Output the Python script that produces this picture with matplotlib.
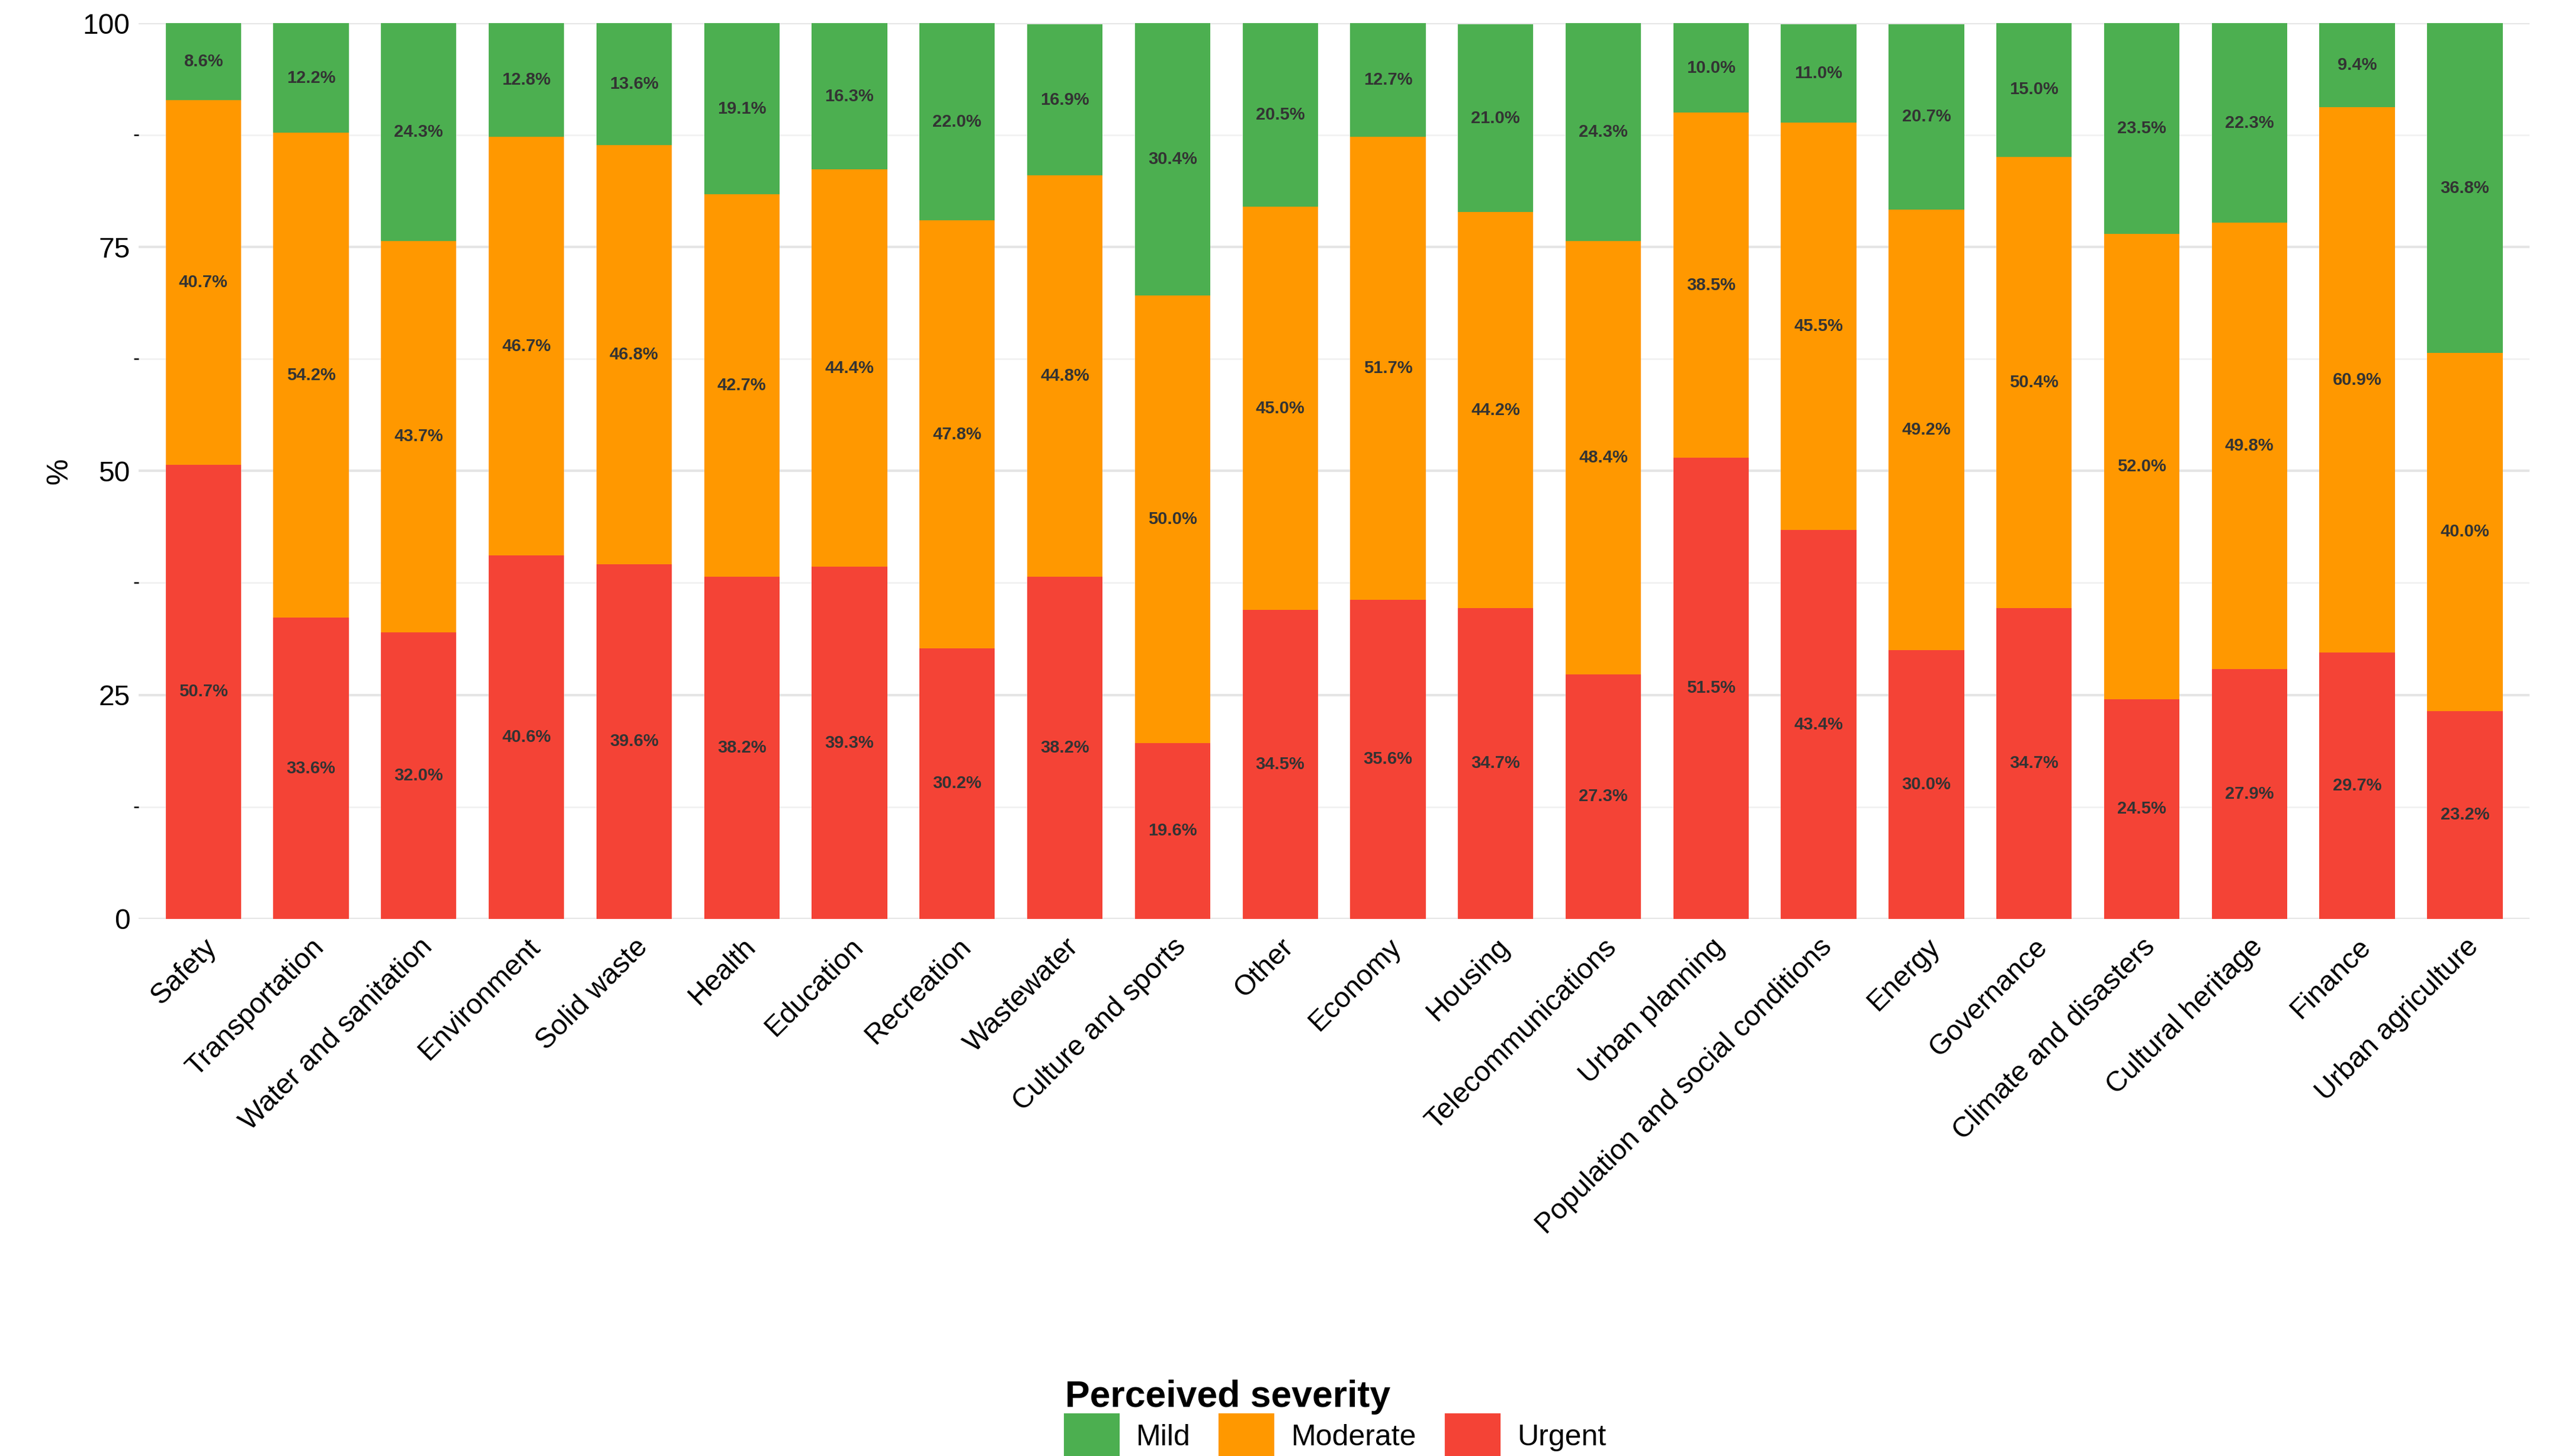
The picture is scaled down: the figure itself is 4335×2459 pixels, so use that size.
import matplotlib.pyplot as plt
from matplotlib.patches import Patch
import numpy as np

categories = ["Safety", "Transportation", "Water and sanitation", "Environment", "Solid waste",
              "Health", "Education", "Recreation", "Wastewater", "Culture and sports", "Other",
              "Economy", "Housing", "Telecommunications", "Urban planning",
              "Population and social conditions", "Energy", "Governance",
              "Climate and disasters", "Cultural heritage", "Finance", "Urban agriculture"]
urgent = [50.7, 33.6, 32.0, 40.6, 39.6, 38.2, 39.3, 30.2, 38.2, 19.6, 34.5,
          35.6, 34.7, 27.3, 51.5, 43.4, 30.0, 34.7, 24.5, 27.9, 29.7, 23.2]
moderate = [40.7, 54.2, 43.7, 46.7, 46.8, 42.7, 44.4, 47.8, 44.8, 50.0, 45.0,
            51.7, 44.2, 48.4, 38.5, 45.5, 49.2, 50.4, 52.0, 49.8, 60.9, 40.0]
mild = [8.6, 12.2, 24.3, 12.8, 13.6, 19.1, 16.3, 22.0, 16.9, 30.4, 20.5,
        12.7, 21.0, 24.3, 10.0, 11.0, 20.7, 15.0, 23.5, 22.3, 9.4, 36.8]

colors = {"Mild": "#4CAF50", "Moderate": "#FF9800", "Urgent": "#F44336"}

plt.rcParams['font.family'] = ['Liberation Sans', 'DejaVu Sans']
fig = plt.figure(figsize=(14.45, 8.197), dpi=300)
ax = fig.add_axes([0.054, 0.369, 0.931, 0.615])

x = np.arange(len(categories))
u = np.array(urgent); m = np.array(moderate); g = np.array(mild)
ax.bar(x, u, 0.7, color=colors["Urgent"], zorder=2)
ax.bar(x, m, 0.7, bottom=u, color=colors["Moderate"], zorder=2)
ax.bar(x, g, 0.7, bottom=u + m, color=colors["Mild"], zorder=2)

for i in x:
    for bot, val in ((0, u[i]), (u[i], m[i]), (u[i] + m[i], g[i])):
        ax.text(i, bot + val / 2, f"{val:.1f}%", ha='center', va='center',
                fontsize=7, fontweight='bold', color='#333333', zorder=3)

ax.set_xlim(-0.6, len(categories) - 0.4)
ax.set_ylim(0, 100)
ax.margins(0)
ax.set_yticks([0, 25, 50, 75, 100])
ax.set_yticks([12.5, 37.5, 62.5, 87.5], minor=True)
ax.grid(True, axis='y', which='major', color='#e5e5e5', linewidth=1.0, zorder=0)
ax.grid(True, axis='y', which='minor', color='#f0f0f0', linewidth=0.6, zorder=0)
ax.set_xticks(x)
ax.set_xticklabels(categories, rotation=45, ha='right', rotation_mode='anchor', fontsize=11.5)
ax.tick_params(axis='both', length=0, labelsize=11.5, colors='black')
ax.tick_params(axis='x', pad=6)
ax.set_ylabel('%', fontsize=12)
for s in ax.spines.values():
    s.set_visible(False)

handles = [Patch(color=colors[k]) for k in ("Mild", "Moderate", "Urgent")]
leg = fig.legend(handles, ["Mild", "Moderate", "Urgent"], loc='center', ncol=3,
                 bbox_to_anchor=(0.52, 0.026), frameon=False, fontsize=12,
                 title="Perceived severity", handlelength=1.8, handleheight=1.8,
                 columnspacing=1.0, handletextpad=0.6)
leg.get_title().set_fontweight('bold')
leg.get_title().set_fontsize(15)
leg._legend_box.align = "left"
# title on the left of the entries
leg._legend_box.sep = 0
from matplotlib.offsetbox import HPacker
box = leg._legend_box
box._children = [HPacker(children=box._children, align='center', pad=0, sep=12)] if False else box._children
fig.savefig("out.png", dpi=300)
